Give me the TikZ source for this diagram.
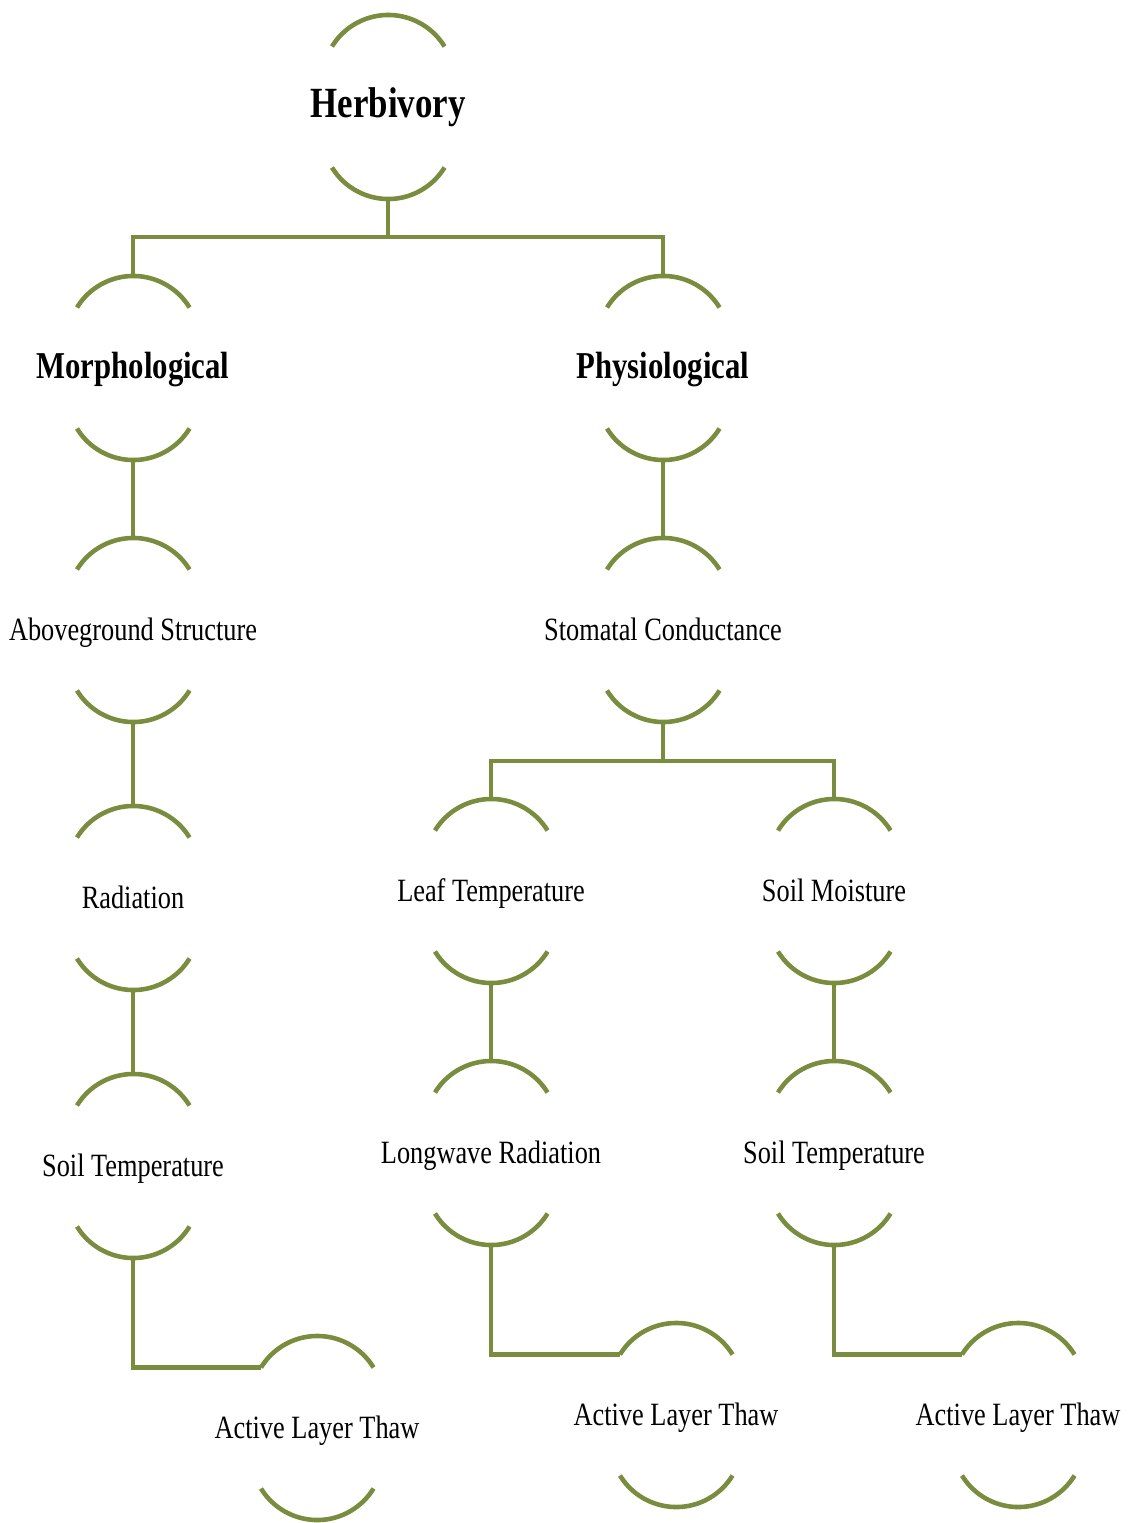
\documentclass[tikz,border=0pt]{standalone}
\usepackage{fontspec}
\setmainfont{Liberation Serif}[FakeStretch=0.81]
\usepackage{tikz}
\usetikzlibrary{positioning, calc}

\definecolor{olive}{RGB}{122,140,62}

\begin{document}
\begin{tikzpicture}[
    node distance=5.24cm and 0cm,
    on grid,
    link/.style={draw=olive, line width=2.6pt},
    cup/.style={draw=olive, line width=2.6pt},
    lbl/.style={inner sep=0pt, text height=1em, text depth=0.16em, font=\fontsize{18.5}{20}\selectfont},
    head/.style={inner sep=0pt, text height=1em, text depth=0.16em, font=\fontsize{21.6}{24}\selectfont\bfseries}
]
    \useasboundingbox (0,0) rectangle (22.64,-30.46);

    \node[head, font=\fontsize{24.5}{27}\selectfont\bfseries] (herb) at (7.76,-2.2) {Herbivory};
    \node[head] (morph) [below left=5.22cm and 5.1cm of herb] {Morphological};
    \node[head] (phys) [below right=5.22cm and 5.5cm of herb] {Physiological};

    % left branch
    \node[lbl] (above) [below=of morph] {Aboveground Structure};
    \node[lbl] (rad) [below=5.36cm of above] {Radiation};
    \node[lbl] (soilt1) [below=5.36cm of rad] {Soil Temperature};
    \node[lbl] (alt1) [below right=5.24cm and 3.68cm of soilt1] {Active Layer Thaw};

    % right branch
    \node[lbl] (stom) [below=of phys] {Stomatal Conductance};
    \node[lbl] (leaf) [below left=5.22cm and 3.44cm of stom] {Leaf Temperature};
    \node[lbl] (soilm) [below right=5.22cm and 3.42cm of stom] {Soil Moisture};
    \node[lbl] (long) [below=of leaf] {Longwave Radiation};
    \node[lbl] (soilt2) [below=of soilm] {Soil Temperature};
    \node[lbl] (alt2) [below right=5.24cm and 3.7cm of long] {Active Layer Thaw};
    \node[lbl] (alt3) [below right=5.24cm and 3.68cm of soilt2] {Active Layer Thaw};

    % arcs above and below every label
    \foreach \n in {herb,morph,phys,above,rad,soilt1,alt1,stom,leaf,soilm,long,soilt2,alt2,alt3} {
        \coordinate (\n-t) at ([yshift=1.92cm]\n.center);
        \coordinate (\n-b) at ([yshift=-1.8cm]\n.center);
        \coordinate (\n-l) at ([shift={(-1.12,-0.65)}]\n-t);
        \draw[cup] (\n-l) arc[start angle=148.5, end angle=31.5, radius=1.32];
        \draw[cup] ([shift={(-1.12,0.65)}]\n-b) arc[start angle=211.5, end angle=328.5, radius=1.32];
    }

    \coordinate (j1) at ($(herb-b)+(0,-0.74)$);
    \coordinate (j2) at ($(stom-b)+(0,-0.76)$);

    \draw[link] (herb-b) -- (j1) -| (morph-t);
    \draw[link] (j1) -| (phys-t);
    \draw[link] (morph-b) -- (above-t);
    \draw[link] (above-b) -- (rad-t);
    \draw[link] (rad-b) -- (soilt1-t);
    \draw[link] (soilt1-b) |- (alt1-l);

    \draw[link] (phys-b) -- (stom-t);
    \draw[link] (stom-b) -- (j2) -| (leaf-t);
    \draw[link] (j2) -| (soilm-t);
    \draw[link] (leaf-b) -- (long-t);
    \draw[link] (soilm-b) -- (soilt2-t);
    \draw[link] (long-b) |- (alt2-l);
    \draw[link] (soilt2-b) |- (alt3-l);
\end{tikzpicture}
\end{document}
